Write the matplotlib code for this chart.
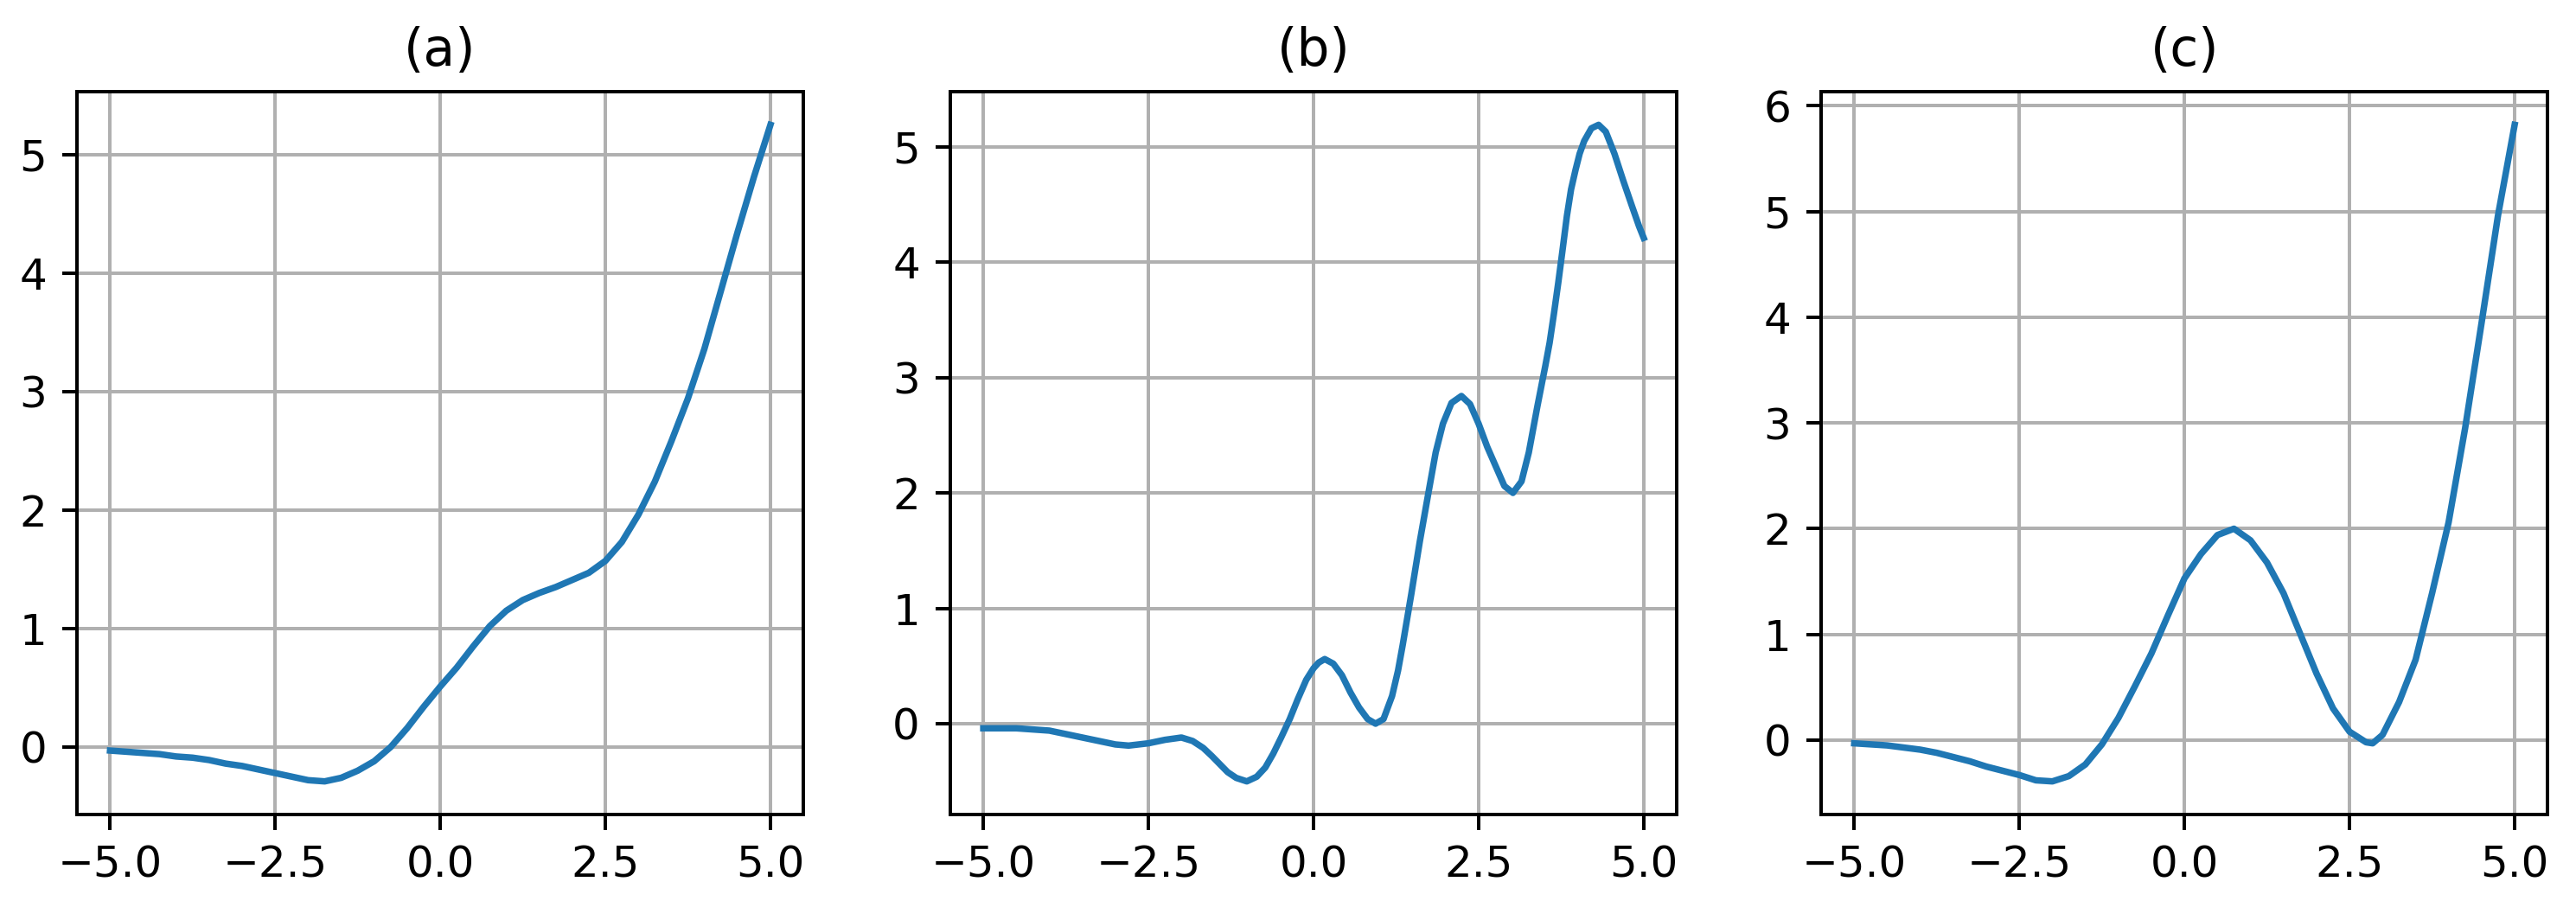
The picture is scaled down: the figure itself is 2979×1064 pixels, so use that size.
import matplotlib
matplotlib.use("Agg")
import matplotlib.pyplot as plt

# values, panel by panel
xa = [-5.0, -4.75, -4.5, -4.25, -4.0, -3.75, -3.5, -3.25, -3.0, -2.75, -2.5, -2.25,
      -2.0, -1.75, -1.5, -1.25, -1.0, -0.75, -0.5, -0.25, 0.0, 0.25, 0.5, 0.75,
      1.0, 1.25, 1.5, 1.75, 2.0, 2.25, 2.5, 2.75, 3.0, 3.25, 3.5, 3.75, 4.0,
      4.25, 4.5, 4.75, 5.0]
ya = [-0.03, -0.04, -0.05, -0.06, -0.08, -0.09, -0.11, -0.14, -0.16, -0.19, -0.22, -0.25,
      -0.28, -0.29, -0.26, -0.20, -0.12, 0.0, 0.16, 0.34, 0.51, 0.67, 0.85, 1.02,
      1.15, 1.24, 1.30, 1.35, 1.41, 1.47, 1.57, 1.73, 1.96, 2.24, 2.58, 2.94, 3.36,
      3.85, 4.34, 4.81, 5.25]

xb = [-5.0, -4.5, -4.0, -3.75, -3.5, -3.25, -3.0, -2.8, -2.5, -2.25, -2.0, -1.83,
      -1.67, -1.54, -1.42, -1.30, -1.17, -1.01, -0.86, -0.73, -0.61, -0.49, -0.36,
      -0.24, -0.11, 0.0, 0.08, 0.17, 0.30, 0.43, 0.56, 0.69, 0.82, 0.94, 1.06,
      1.19, 1.28, 1.35, 1.48, 1.61, 1.74, 1.85, 1.96, 2.09, 2.24, 2.37, 2.5, 2.63,
      2.76, 2.89, 3.02, 3.15, 3.26, 3.39, 3.51, 3.575, 3.64, 3.706, 3.77,
      3.837, 3.90, 3.968, 4.03, 4.099, 4.208, 4.317, 4.426, 4.557, 4.688, 4.82,
      4.93, 5.0]
yb = [-0.04, -0.04, -0.06, -0.09, -0.12, -0.15, -0.18, -0.19, -0.17, -0.14, -0.12, -0.15,
      -0.21, -0.28, -0.35, -0.42, -0.47, -0.50, -0.46, -0.38, -0.26, -0.12, 0.04,
      0.21, 0.38, 0.48, 0.53, 0.56, 0.52, 0.42, 0.27, 0.14, 0.04, 0.0, 0.04,
      0.24, 0.46, 0.68, 1.12, 1.58, 2.0, 2.35, 2.60, 2.78, 2.84, 2.77, 2.60, 2.40,
      2.23, 2.06, 2.0, 2.10, 2.35, 2.75, 3.1, 3.3, 3.55, 3.82, 4.1,
      4.4, 4.63, 4.8, 4.94, 5.05, 5.16, 5.19, 5.13, 4.94, 4.71, 4.49,
      4.31, 4.21]

xc = [-5.0, -4.75, -4.5, -4.25, -4.0, -3.75, -3.5, -3.25, -3.0, -2.75, -2.5, -2.25,
      -2.0, -1.75, -1.5, -1.25, -1.0, -0.75, -0.5, -0.25, 0.0, 0.25, 0.5, 0.75,
      1.0, 1.25, 1.5, 1.75, 2.0, 2.25, 2.5, 2.75, 2.85, 3.0, 3.25, 3.5, 3.75,
      4.0, 4.25, 4.5, 4.75, 5.0]
yc = [-0.03, -0.04, -0.05, -0.07, -0.09, -0.12, -0.16, -0.20, -0.25, -0.29, -0.33, -0.38,
      -0.39, -0.34, -0.23, -0.04, 0.21, 0.51, 0.82, 1.18, 1.53, 1.76, 1.94, 2.0,
      1.89, 1.68, 1.39, 1.01, 0.63, 0.30, 0.08, -0.02, -0.03, 0.05, 0.36, 0.76, 1.39,
      2.06, 2.95, 3.95, 4.97, 5.82]

panels = [("(a)", xa, ya), ("(b)", xb, yb), ("(c)", xc, yc)]
lefts = [0.0299, 0.3689, 0.7070]

fig = plt.figure(figsize=(2979 / 360, 1064 / 360), dpi=360)
for left, (title, x, y) in zip(lefts, panels):
    ax = fig.add_axes([left, 0.115, 0.2820, 0.785])
    ax.plot(x, y, color="#1f77b4", linewidth=1.5)
    ax.set_xticks([-5, -2.5, 0, 2.5, 5])
    ax.set_title(title)
    ax.grid(True)

fig.savefig("out.png", dpi=360)
